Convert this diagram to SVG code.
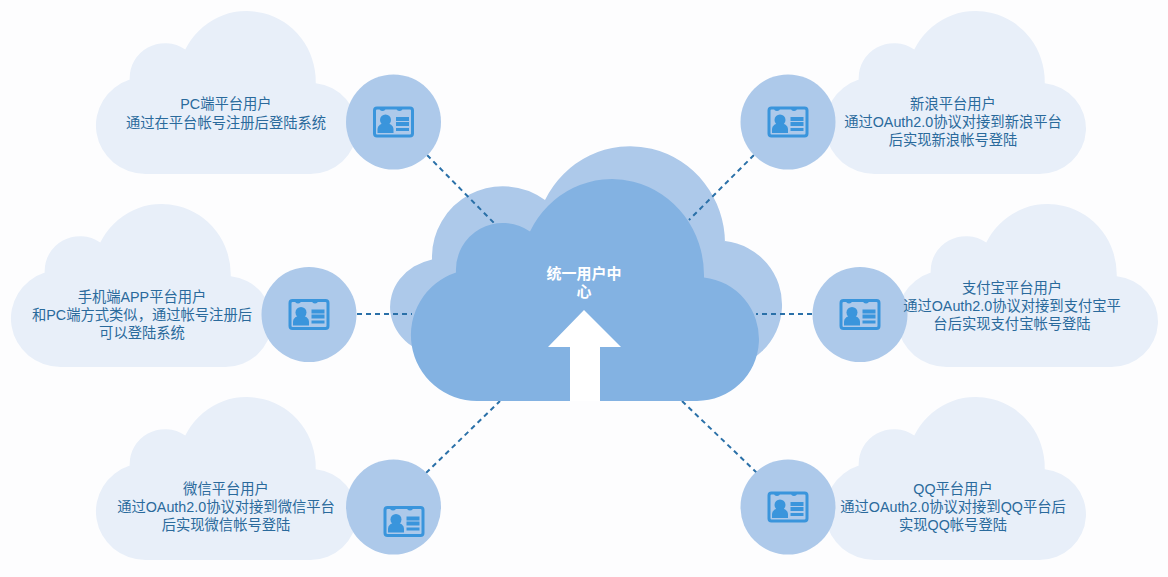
<svg xmlns="http://www.w3.org/2000/svg" xmlns:xlink="http://www.w3.org/1999/xlink" width="1168" height="577" viewBox="0 0 1168 577">
<style>
.cloud{fill:#e8eff9}
.disc{fill:#adc9ea}
.t{font-family:"Liberation Sans","Noto Sans CJK SC",sans-serif;font-size:14.300px;fill:#2a6a9c;text-anchor:middle}
.w{font-family:"Liberation Sans","Noto Sans CJK SC",sans-serif;font-size:15px;fill:#fff;text-anchor:middle;font-weight:bold}
.link{stroke:#2a70a8;stroke-width:2;stroke-dasharray:5 4;fill:none}
</style>
<defs>
<path id="c" d="M477,401A66,66 0 0 1 456,272.400A47,47 0 0 1 530,231.500A92,96 0 0 1 704,275V277.400A62,62 0 0 1 697,401Z"/>
<g id="icon">
<rect x="-19" y="-14" width="38" height="28" rx="2.500" fill="none" stroke="#3a95dc" stroke-width="3"/>
<path d="M-14,-14a3,3 0 0 0 6,0zM3,-14a3,3 0 0 0 6,0z" fill="#3a95dc"/>
<circle cx="-8" cy="-2" r="5.500" fill="#3a95dc"/>
<path d="M-16,11v-4a8,6 0 0 1 16,0v4z" fill="#3a95dc"/>
<rect x="2.500" y="-5" width="13" height="4" fill="#3a95dc"/>
<rect x="2.500" y="0" width="13" height="4" fill="#3a95dc"/>
<rect x="2.500" y="6" width="13" height="3" fill="#3a95dc"/>
</g>
</defs>
<rect width="1168" height="577" fill="#fdfdfe"/>
<g id="center-back"><path fill="#adc9ea" d="M445,356A55,49 0 0 1 432,259.400A71,71 0 0 1 545,200A95,97 0 0 1 725,243V241A64.200,64.200 0 0 1 718,369Z"/></g>
<g id="connectors">
<path class="link" d="M427,155L496,225"/>
<path class="link" d="M754,155L689,220"/>
<path class="link" d="M357,314H412"/>
<path class="link" d="M812,314H756"/>
<path class="link" d="M426,473L500,401"/>
<path class="link" d="M757,473L682,401"/>
</g>
<g id="center">
<use href="#c" fill="#83b2e2"/>
<path fill="#fff" d="M584,310L621,347H600V401H570V347H548Z"/>
<text class="w" x="584" y="279">统一用户中</text>
<text class="w" x="584" y="297">心</text>
</g>
<g id="pc">
<use href="#c" class="cloud" transform="translate(96,11) scale(0.750,0.734) translate(-411,-179)"/>
<circle class="disc" cx="393.500" cy="122" r="47.500"/>
<use href="#icon" x="393.500" y="122"/>
<text class="t" x="226" y="109">PC端平台用户</text>
<text class="t" x="226" y="128">通过在平台帐号注册后登陆系统</text>
</g>
<g id="sina">
<use href="#c" class="cloud" transform="translate(825,11) scale(0.750,0.734) translate(-411,-179)"/>
<circle class="disc" cx="788" cy="122" r="47.500"/>
<use href="#icon" x="788" y="122"/>
<text class="t" x="953" y="109">新浪平台用户</text>
<text class="t" x="953" y="127">通过OAuth2.0协议对接到新浪平台</text>
<text class="t" x="953" y="145">后实现新浪帐号登陆</text>
</g>
<g id="mobile">
<use href="#c" class="cloud" transform="translate(11,204) scale(0.750,0.734) translate(-411,-179)"/>
<circle class="disc" cx="309" cy="314.500" r="47.500"/>
<use href="#icon" x="309" y="314.500"/>
<text class="t" x="142" y="302">手机端APP平台用户</text>
<text class="t" x="142" y="320">和PC端方式类似，通过帐号注册后</text>
<text class="t" x="142" y="338">可以登陆系统</text>
</g>
<g id="alipay">
<use href="#c" class="cloud" transform="translate(897,204) scale(0.750,0.734) translate(-411,-179)"/>
<circle class="disc" cx="860" cy="314.500" r="47.500"/>
<use href="#icon" x="860" y="314.500"/>
<text class="t" x="1012" y="293">支付宝平台用户</text>
<text class="t" x="1012" y="311">通过OAuth2.0协议对接到支付宝平</text>
<text class="t" x="1012" y="329">台后实现支付宝帐号登陆</text>
</g>
<g id="wechat">
<use href="#c" class="cloud" transform="translate(96,397) scale(0.750,0.734) translate(-411,-179)"/>
<circle class="disc" cx="393.500" cy="507" r="47.500"/>
<use href="#icon" x="404" y="521.500"/>
<text class="t" x="226" y="494">微信平台用户</text>
<text class="t" x="226" y="512">通过OAuth2.0协议对接到微信平台</text>
<text class="t" x="226" y="530">后实现微信帐号登陆</text>
</g>
<g id="qq">
<use href="#c" class="cloud" transform="translate(825,397) scale(0.750,0.734) translate(-411,-179)"/>
<circle class="disc" cx="788" cy="507" r="47.500"/>
<use href="#icon" x="788" y="507"/>
<text class="t" x="953" y="494">QQ平台用户</text>
<text class="t" x="953" y="512">通过OAuth2.0协议对接到QQ平台后</text>
<text class="t" x="953" y="530">实现QQ帐号登陆</text>
</g>
</svg>
